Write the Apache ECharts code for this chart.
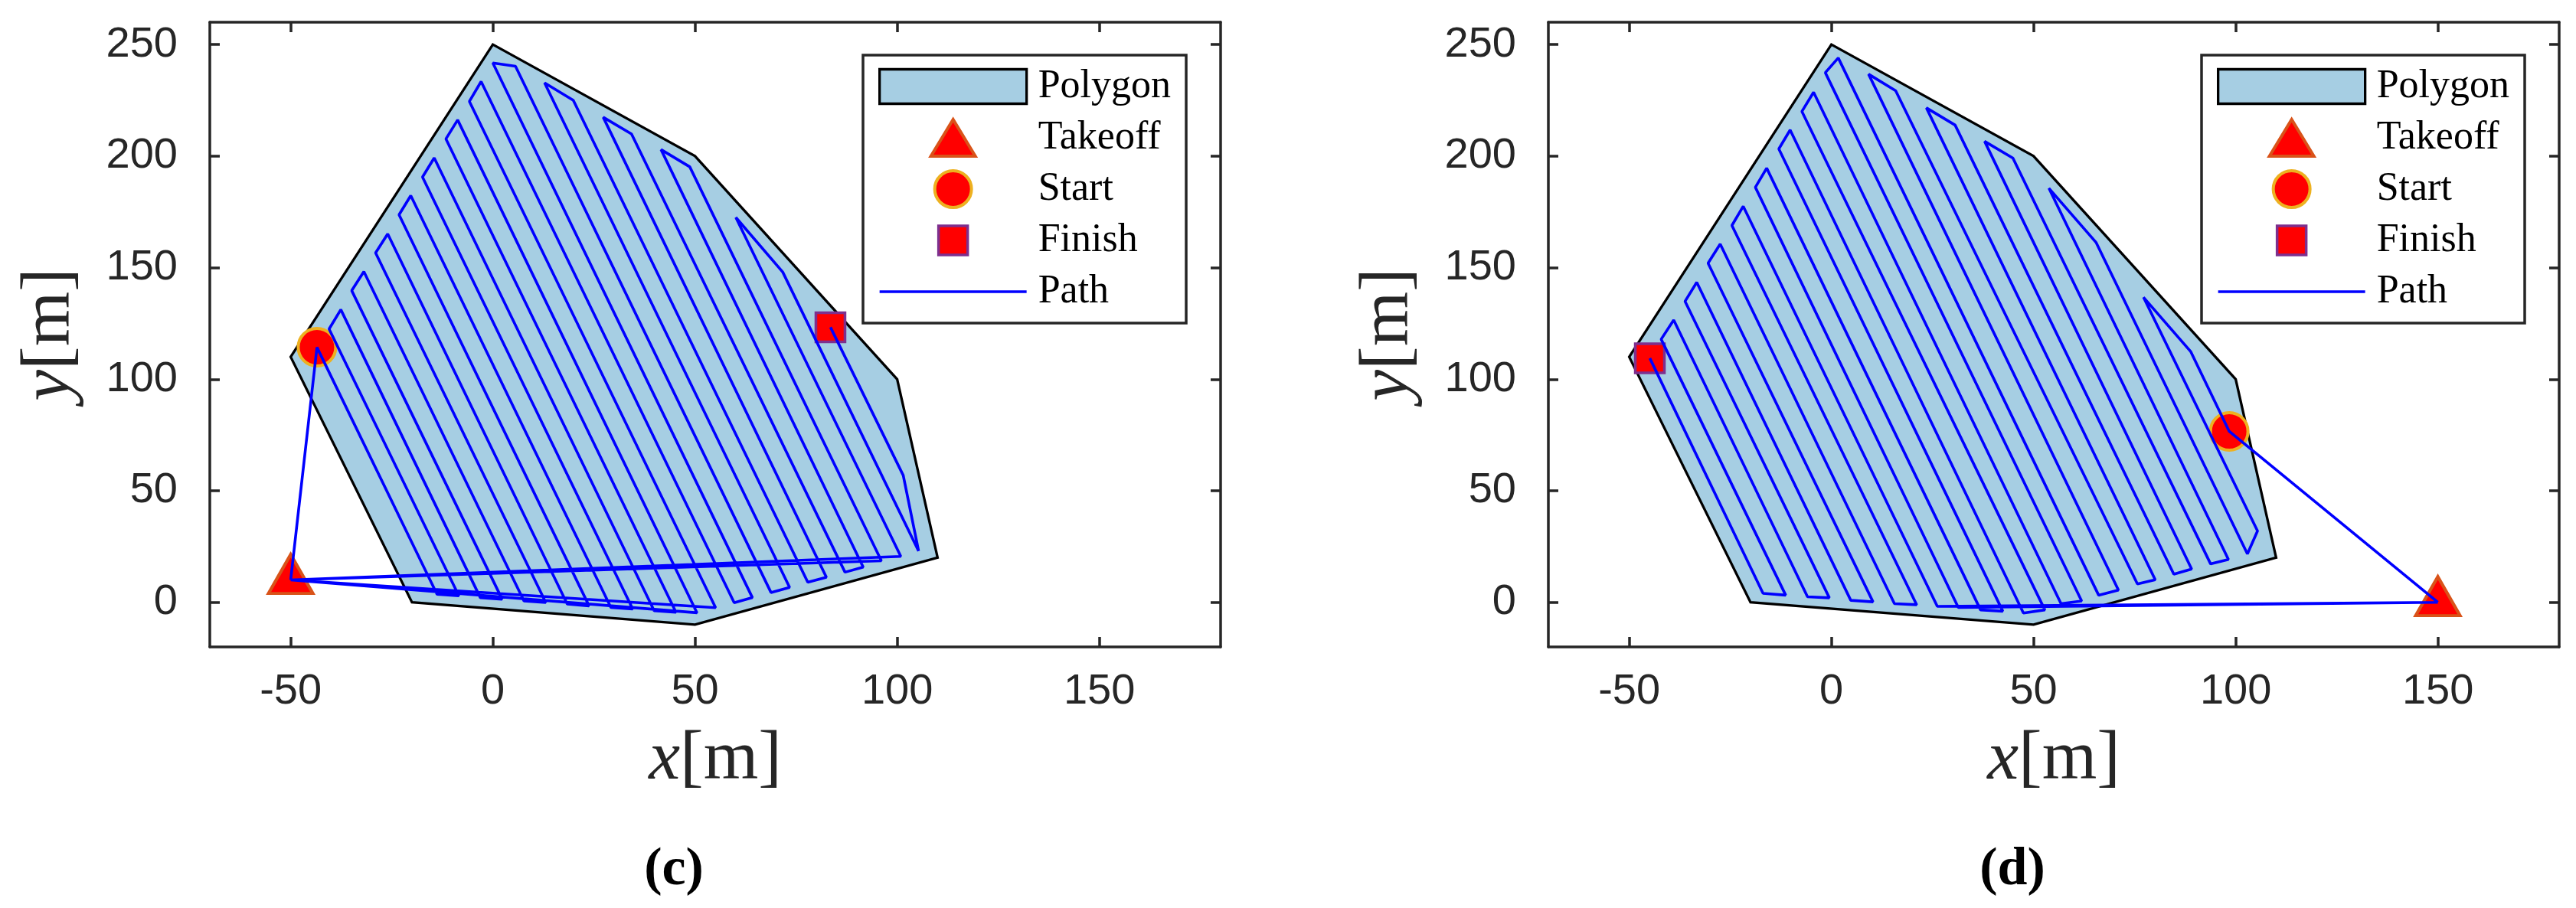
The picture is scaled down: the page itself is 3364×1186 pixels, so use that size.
<!DOCTYPE html>
<html><head><meta charset="utf-8">
<script src="https://cdn.jsdelivr.net/npm/echarts@6/dist/echarts.min.js"></script>
<style>html,body{margin:0;padding:0;background:#fff}#chart{width:3364px;height:1186px}</style>
</head><body><div id="chart"></div><script>
// ---- data ----
const xTicks = [-50, 0, 50, 100, 150];
const yTicks = [0, 50, 100, 150, 200, 250];
const legendNames = ['Polygon', 'Takeoff', 'Start', 'Finish', 'Path'];
const panelLabels = ['(c)', '(d)'];
const polygonX = [0, 50, 100, 110, 50, -20, -50];
const polygonY = [250, 200, 100, 20, -10, 0, 110];

const takeoffC = [[-50, 10]];
const startC = [[-43.5, 114.3]];
const finishC = [[83.5, 123.3]];
const pathCX = [-50, -43.5, -13.8, -8.4, -40.5, -37.6, -3.1, 2.3, -34.9, -31.9, 7.7, 13.1, -29.0, -26.0, 18.4, 23.8,
  -23.2, -20.3, 29.2, 34.6, -17.4, -14.5, 39.9, 45.3, -11.6, -8.7, 50.5, -50, 55.1, -5.8, -2.9, 59.7, 64.2, 0.0, 5.6,
  68.8, 73.4, 12.8, 19.9, 77.9, 82.5, 27.3, 34.3, 87.1, 91.6, 41.6, 48.7, 96.1, -50, 100.9, 60.1, 71.7, 105.3, 101.5, 83.5];
const pathCY = [10, 114.3, 3.6, 2.9, 122.5, 131.2, 2.1, 1.4, 139.7, 148.2, 0.6, -0.1, 156.6, 165.1, -0.8, -1.6,
  173.7, 182.3, -2.3, -3.0, 190.6, 199.2, -3.8, -4.5, 207.7, 216.2, -4.7, 10, -2.4, 224.5, 233.4, -0.2, 2.1, 241.7, 240.3,
  4.4, 6.7, 232.8, 225.0, 9.0, 11.2, 217.4, 209.9, 13.5, 15.8, 202.9, 195.2, 18.6, 10, 20.6, 172.5, 148.0, 23.0, 56.9, 123.3];

const takeoffD = [[150, 0]];
const startD = [[98.4, 76.6]];
const finishD = [[-44.9, 109.4]];
const pathDX = [150, 98.4, 88.9, 77.2, 105.4, 102.9, 65.5, 53.8, 98.2, 93.8, 44.9, 37.9, 89.1, 84.7, 30.6, 23.5,
  80.1, 75.7, 15.9, 9.2, 71.0, 66.1, 1.7, -1.5, 61.9, 56.8, -4.4, -7.3, 52.8, 47.5, -10.2, -13.0, 42.4, 36.9,
  -16.0, -18.8, 31.4, 150, 26.2, -21.8, -24.6, 21.1, 15.6, -27.5, -30.5, 10.3, 4.8, -33.3, -36.2, -0.5, -5.9,
  -39.0, -42.1, -11.3, -16.9, -44.9];
const pathDY = [0, 76.6, 112.3, 136.7, 32.0, 21.7, 161.2, 185.6, 19.2, 17.2, 199.1, 206.6, 14.9, 12.6, 213.9, 221.6,
  10.1, 8.2, 229.3, 236.7, 5.5, 3.2, 244.0, 237.4, 0.6, -0.6, 228.6, 220.0, -3.4, -4.8, 211.7, 203.2, -4.0, -3.4,
  194.6, 186.0, -2.3, 0, -1.8, 177.5, 168.9, -1.1, -0.6, 160.6, 152.0, 0.2, 0.9, 143.4, 134.9, 2.0, 2.5,
  126.5, 117.9, 3.2, 4.0, 109.4];

// ---- helpers ----
const zip = (xs, ys) => xs.map((x, i) => [x, ys[i]]);
const AX = '#262626';
const axLine = { color: AX, width: 3.5 };
const tickFont = { fontFamily: 'Liberation Sans', fontSize: 56, color: AX };
const nameStyle = {
  color: AX, fontFamily: 'Liberation Serif', fontSize: 92,
  rich: {
    i: { fontStyle: 'italic', fontFamily: 'Liberation Serif', fontSize: 92, color: AX },
    r: { fontFamily: 'Liberation Serif', fontSize: 92, color: AX }
  }
};
const gridLefts = [274, 2022];

function xAxes(g) {
  return [
    { type: 'value', gridIndex: g, position: 'bottom', min: -70, max: 180,
      axisLine: { onZero: false, lineStyle: axLine },
      axisTick: { inside: true, length: 13, customValues: xTicks, lineStyle: axLine },
      axisLabel: Object.assign({ customValues: xTicks, margin: 31 }, tickFont),
      splitLine: { show: false },
      name: '{i|x}{r|[m]}', nameLocation: 'middle', nameGap: 102, nameTextStyle: nameStyle },
    { type: 'value', gridIndex: g, position: 'top', min: -70, max: 180,
      axisLine: { onZero: false, lineStyle: axLine },
      axisTick: { inside: true, length: 13, customValues: xTicks, lineStyle: axLine },
      axisLabel: { show: false }, splitLine: { show: false } }
  ];
}
function yAxes(g) {
  return [
    { type: 'value', gridIndex: g, position: 'left', min: -20, max: 260,
      axisLine: { onZero: false, lineStyle: axLine },
      axisTick: { inside: true, length: 13, customValues: yTicks, lineStyle: axLine },
      axisLabel: Object.assign({ customValues: yTicks, margin: 42 }, tickFont),
      splitLine: { show: false },
      name: '{i|y}{r|[m]}', nameLocation: 'middle', nameGap: 162, nameTextStyle: nameStyle },
    { type: 'value', gridIndex: g, position: 'right', min: -20, max: 260,
      axisLine: { onZero: false, lineStyle: axLine },
      axisTick: { inside: true, length: 13, customValues: yTicks, lineStyle: axLine },
      axisLabel: { show: false }, splitLine: { show: false } }
  ];
}

const polyStyle = { color: '#A6CEE3', borderColor: '#000000', borderWidth: 3.3, opacity: 1 };
const takeoffStyle = { color: '#FF0000', borderColor: '#D95319', borderWidth: 4, opacity: 1 };
const startStyle = { color: '#FF0000', borderColor: '#EDB120', borderWidth: 4, opacity: 1 };
const finishStyle = { color: '#FF0000', borderColor: '#7E2F8E', borderWidth: 3.5, opacity: 1 };
const pathStyle = { color: '#0000FF', width: 3.6, opacity: 1 };

function panelSeries(g, takeoff, start, finish, px, py) {
  const xi = g * 2, yi = g * 2;
  return [
    { type: 'custom', name: 'Polygon', xAxisIndex: xi, yAxisIndex: yi, z: 1,
      itemStyle: polyStyle,
      data: zip(polygonX, polygonY),
      renderItem: function (params, api) {
        if (params.dataIndex !== 0) return null;
        const pts = polygonX.map((x, i) => api.coord([x, polygonY[i]]));
        return { type: 'polygon', shape: { points: pts },
          style: { fill: polyStyle.color, stroke: polyStyle.borderColor, lineWidth: polyStyle.borderWidth, lineJoin: 'miter' } };
      } },
    { type: 'scatter', name: 'Takeoff', xAxisIndex: xi, yAxisIndex: yi, z: 3,
      symbol: 'triangle', symbolSize: [58, 51], symbolOffset: [0, -8], itemStyle: takeoffStyle, data: takeoff },
    { type: 'scatter', name: 'Start', xAxisIndex: xi, yAxisIndex: yi, z: 3,
      symbol: 'circle', symbolSize: 49, itemStyle: startStyle, data: start },
    { type: 'scatter', name: 'Finish', xAxisIndex: xi, yAxisIndex: yi, z: 3,
      symbol: 'rect', symbolSize: 38, itemStyle: finishStyle, data: finish },
    { type: 'line', name: 'Path', xAxisIndex: xi, yAxisIndex: yi, z: 4,
      symbol: 'none', showSymbol: false, lineStyle: pathStyle, itemStyle: { color: '#0000FF' },
      data: zip(px, py) }
  ];
}

function makeLegend(left) {
  return {
    orient: 'vertical', left: left, top: 72,
    itemWidth: 192, itemHeight: 48, itemGap: 15,
    padding: [15, 20, 15, 20],
    borderColor: AX, borderWidth: 3.5, backgroundColor: '#ffffff',
    selectedMode: false,
    textStyle: { fontFamily: 'Liberation Serif', fontSize: 52, color: '#000', width: 176, padding: [0, 0, 0, 10] },
    data: [
      { name: legendNames[0], icon: 'path://M0,0M192,48M0,1.5H192V46.5H0Z', itemStyle: polyStyle },
      { name: legendNames[1], icon: 'path://M29,0L58,48L0,48Z', itemStyle: takeoffStyle },
      { name: legendNames[2], icon: 'circle', itemStyle: startStyle },
      { name: legendNames[3], icon: 'path://M0,0M48,48M5,5H43V43H5Z', itemStyle: finishStyle },
      { name: legendNames[4], icon: 'path://M0,0M192,48M0,22.2H192V25.8H0Z',
        itemStyle: { color: '#0000FF', borderWidth: 0, opacity: 1 } }
    ]
  };
}

const chart = echarts.init(document.getElementById('chart'), null, { renderer: 'canvas' });
chart.setOption({
  animation: false,
  backgroundColor: '#ffffff',
  grid: [
    { left: gridLefts[0], top: 29, width: 1320, height: 816 },
    { left: gridLefts[1], top: 29, width: 1320, height: 816 }
  ],
  xAxis: xAxes(0).concat(xAxes(1)),
  yAxis: yAxes(0).concat(yAxes(1)),
  legend: [makeLegend(1127), makeLegend(2875)],
  graphic: [
    { type: 'text', x: 880, y: 1137, style: { text: panelLabels[0], font: 'bold 70px "Liberation Serif"', fill: '#000', textAlign: 'center', textVerticalAlign: 'middle' } },
    { type: 'text', x: 2628, y: 1137, style: { text: panelLabels[1], font: 'bold 70px "Liberation Serif"', fill: '#000', textAlign: 'center', textVerticalAlign: 'middle' } }
  ],
  series: panelSeries(0, takeoffC, startC, finishC, pathCX, pathCY)
    .concat(panelSeries(1, takeoffD, startD, finishD, pathDX, pathDY))
});
</script></body></html>
